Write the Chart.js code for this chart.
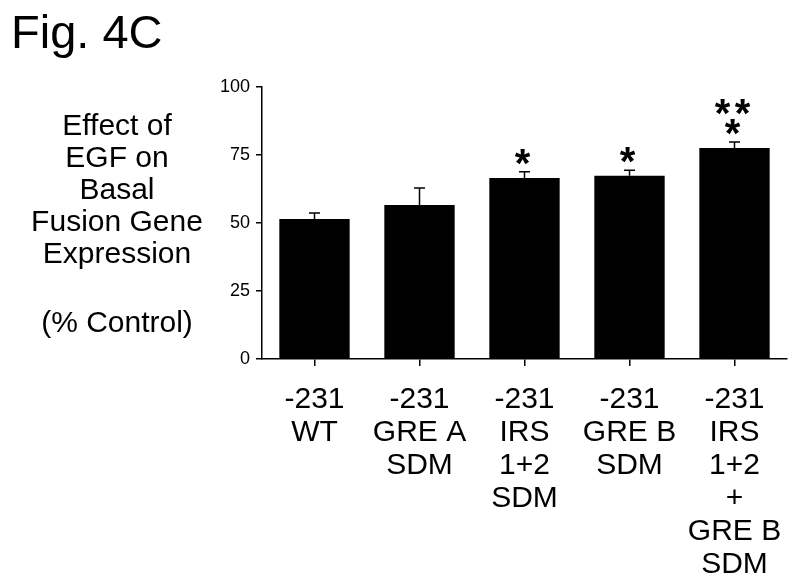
<!DOCTYPE html>
<html>
<head>
<meta charset="utf-8">
<script src="https://cdn.jsdelivr.net/npm/chart.js@4.4.0/dist/chart.umd.min.js"></script>
<style>
  html, body { margin: 0; padding: 0; background: #fff; }
  #wrap { width: 800px; height: 584px; position: relative; }
</style>
</head>
<body>
<div id="wrap"><canvas id="c" width="800" height="584"></canvas></div>
<script>
// ---- data ----
const categories = [
  ["-231", "WT"],
  ["-231", "GRE A", "SDM"],
  ["-231", "IRS", "1+2", "SDM"],
  ["-231", "GRE B", "SDM"],
  ["-231", "IRS", "1+2", "+", "GRE B", "SDM"]
];
const values = [51.5, 56.6, 66.5, 67.4, 77.6];
const errors = [2.2, 6.3, 2.3, 2.0, 2.2];
const significance = [[], [], ["*"], ["*"], ["**", "*"]];
const yTicks = [0, 25, 50, 75, 100];
const figTitle = "Fig. 4C";
const yTitleLines = ["Effect of", "EGF on", "Basal", "Fusion Gene", "Expression", "", "(% Control)"];

const FONT = "'Liberation Sans', Arial, Helvetica, sans-serif";

const extrasPlugin = {
  id: 'extras',
  afterDatasetsDraw(chart) {
    const ctx = chart.ctx;
    const meta = chart.getDatasetMeta(0);
    const y = chart.scales.y;
    ctx.save();
    // error bars
    ctx.strokeStyle = '#000';
    ctx.lineWidth = 1.5;
    meta.data.forEach((bar, i) => {
      const x = bar.x;
      const top = y.getPixelForValue(values[i]);
      const et = y.getPixelForValue(values[i] + errors[i]);
      ctx.beginPath();
      ctx.moveTo(x, top);
      ctx.lineTo(x, et);
      ctx.moveTo(x - 5.5, et);
      ctx.lineTo(x + 5.5, et);
      ctx.stroke();
      // significance stars
      const lines = significance[i];
      ctx.fillStyle = '#000';
      ctx.font = 'bold 40px ' + FONT;
      ctx.textAlign = 'center';
      ctx.textBaseline = 'alphabetic';
      let cy = et - 14; // centre of lowest star line
      for (let k = lines.length - 1; k >= 0; k--) {
        const chars = lines[k].split('');
        const n = chars.length;
        chars.forEach((ch, j) => {
          ctx.fillText(ch, x - 2 + (j - (n - 1) / 2) * 20, cy + 19);
        });
        cy -= 20;
      }
    });
    // title
    ctx.textAlign = 'left';
    ctx.font = '47px ' + FONT;
    ctx.fillText(figTitle, 11, 48);
    // y title
    ctx.textAlign = 'center';
    ctx.textBaseline = 'middle';
    ctx.font = '30px ' + FONT;
    yTitleLines.forEach((t, k) => {
      const yy = k < 6 ? 127 + k * 32 : 324;
      ctx.fillText(t, 117, yy);
    });
    ctx.restore();
  }
};

new Chart(document.getElementById('c'), {
  type: 'bar',
  data: {
    labels: categories,
    datasets: [{
      data: values,
      backgroundColor: '#000',
      borderWidth: 0,
      barPercentage: 0.67,
      categoryPercentage: 1.0
    }]
  },
  options: {
    responsive: false,
    animation: false,
    devicePixelRatio: 1,
    layout: { padding: { left: 0, right: 13, top: 87, bottom: 0 } },
    plugins: { legend: { display: false }, tooltip: { enabled: false }, title: { display: false } },
    scales: {
      x: {
        offset: true,
        grid: { display: true, offset: false, drawOnChartArea: false, drawTicks: true, tickLength: 7, color: '#000', lineWidth: 1.5 },
        border: { display: true, color: '#000', width: 1.5 },
        ticks: { color: '#000', font: { family: FONT, size: 30, lineHeight: 1.1 }, padding: 17, maxRotation: 0, autoSkip: false },
        afterFit(scale) { scale.height = 584 - 359 - 0; }
      },
      y: {
        min: 0, max: 100,
        afterBuildTicks(scale) { scale.ticks = yTicks.map(v => ({ value: v })); },
        grid: { display: true, drawOnChartArea: false, drawTicks: true, tickLength: 6, color: '#000', lineWidth: 1.5 },
        border: { display: true, color: '#000', width: 1.5 },
        ticks: { color: '#000', font: { family: FONT, size: 18 }, padding: 6 },
        afterFit(scale) { scale.width = 262; }
      }
    }
  },
  plugins: [extrasPlugin]
});
</script>
</body>
</html>
